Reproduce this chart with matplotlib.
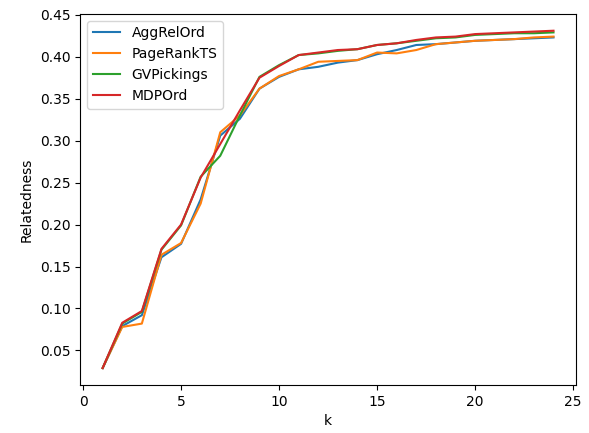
import numpy as np
import matplotlib
matplotlib.use('Agg')
import matplotlib.pyplot as plt

k = list(range(1, 25))

# relatedness per method
agg_rel_ord = [0.029, 0.079, 0.092, 0.161, 0.177, 0.230, 0.306, 0.326, 0.362, 0.376,
               0.385, 0.388, 0.393, 0.396, 0.403, 0.408, 0.414, 0.415, 0.417, 0.419,
               0.420, 0.421, 0.422, 0.423]
page_rank_ts = [0.029, 0.078, 0.082, 0.164, 0.178, 0.225, 0.310, 0.330, 0.362, 0.377,
                0.385, 0.394, 0.395, 0.396, 0.405, 0.404, 0.408, 0.415, 0.417, 0.419,
                0.420, 0.421, 0.423, 0.424]
gv_pickings = [0.029, 0.082, 0.096, 0.170, 0.199, 0.257, 0.282, 0.330, 0.376, 0.390,
               0.402, 0.404, 0.407, 0.409, 0.414, 0.416, 0.419, 0.422, 0.423, 0.426,
               0.427, 0.428, 0.428, 0.429]
mdp_ord = [0.029, 0.083, 0.097, 0.171, 0.200, 0.256, 0.296, 0.336, 0.375, 0.389,
           0.402, 0.405, 0.408, 0.409, 0.414, 0.416, 0.420, 0.423, 0.424, 0.427,
           0.428, 0.429, 0.430, 0.431]

fig, ax = plt.subplots(figsize=(5.89, 4.33), dpi=100)
fig.subplots_adjust(left=0.136, right=0.978, top=0.968, bottom=0.111)

ax.plot(k, agg_rel_ord, label='AggRelOrd')
ax.plot(k, page_rank_ts, label='PageRankTS')
ax.plot(k, gv_pickings, label='GVPickings')
ax.plot(k, mdp_ord, label='MDPOrd')

ax.set_xlabel('k')
ax.set_ylabel('Relatedness')
ax.legend(loc='upper left')

fig.savefig('out.png')
